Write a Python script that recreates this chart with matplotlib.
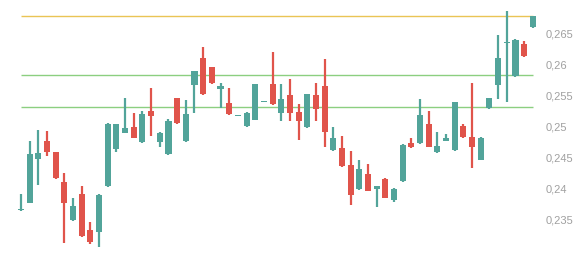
import matplotlib.pyplot as plt

# OHLC values
opens = [0.2366, 0.2378, 0.2448, 0.2477, 0.2459, 0.2411, 0.2350, 0.2392, 0.2334, 0.2331,
         0.2405, 0.2465, 0.2491, 0.2500, 0.2476, 0.2526, 0.2476, 0.2456, 0.2546, 0.2477,
         0.2567, 0.2611, 0.2596, 0.2562, 0.2539, 0.2517, 0.2502, 0.2511, 0.2540, 0.2570,
         0.2523, 0.2552, 0.2524, 0.2500, 0.2552, 0.2566, 0.2463, 0.2466, 0.2439, 0.2400,
         0.2425, 0.2400, 0.2416, 0.2382, 0.2413, 0.2474, 0.2474, 0.2505, 0.2459, 0.2478,
         0.2463, 0.2502, 0.2484, 0.2447, 0.2530, 0.2568, 0.2635, 0.2582, 0.2634, 0.2661]
highs = [0.2392, 0.2477, 0.2495, 0.2494, 0.2460, 0.2426, 0.2385, 0.2405, 0.2347, 0.2392,
         0.2506, 0.2505, 0.2547, 0.2522, 0.2526, 0.2563, 0.2492, 0.2513, 0.2547, 0.2544,
         0.2591, 0.2629, 0.2597, 0.2571, 0.2563, 0.2520, 0.2524, 0.2570, 0.2542, 0.2621,
         0.2569, 0.2577, 0.2537, 0.2554, 0.2571, 0.2610, 0.2500, 0.2486, 0.2461, 0.2447,
         0.2440, 0.2405, 0.2417, 0.2401, 0.2472, 0.2482, 0.2545, 0.2526, 0.2492, 0.2488,
         0.2541, 0.2505, 0.2571, 0.2484, 0.2547, 0.2648, 0.2687, 0.2642, 0.2639, 0.2679]
lows = [0.2365, 0.2377, 0.2406, 0.2454, 0.2416, 0.2313, 0.2349, 0.2323, 0.2312, 0.2307,
        0.2404, 0.2459, 0.2490, 0.2482, 0.2475, 0.2486, 0.2467, 0.2455, 0.2505, 0.2476,
        0.2523, 0.2552, 0.2569, 0.2530, 0.2520, 0.2517, 0.2500, 0.2511, 0.2540, 0.2536,
        0.2509, 0.2509, 0.2479, 0.2499, 0.2509, 0.2467, 0.2462, 0.2436, 0.2375, 0.2399,
        0.2396, 0.2371, 0.2385, 0.2379, 0.2412, 0.2466, 0.2473, 0.2467, 0.2458, 0.2477,
        0.2462, 0.2483, 0.2434, 0.2446, 0.2529, 0.2545, 0.2541, 0.2581, 0.2613, 0.2660]
closes = [0.2368, 0.2456, 0.2458, 0.2460, 0.2417, 0.2377, 0.2373, 0.2324, 0.2315, 0.2390,
          0.2505, 0.2505, 0.2498, 0.2483, 0.2521, 0.2517, 0.2491, 0.2510, 0.2506, 0.2521,
          0.2590, 0.2553, 0.2571, 0.2566, 0.2521, 0.2519, 0.2523, 0.2570, 0.2541, 0.2537,
          0.2545, 0.2522, 0.2509, 0.2553, 0.2529, 0.2492, 0.2483, 0.2437, 0.2391, 0.2432,
          0.2397, 0.2405, 0.2386, 0.2400, 0.2471, 0.2467, 0.2519, 0.2468, 0.2470, 0.2482,
          0.2540, 0.2484, 0.2468, 0.2483, 0.2546, 0.2612, 0.2637, 0.2641, 0.2615, 0.2679]

# horizontal levels
level_top = 0.2679
level_mid = 0.2584
level_low = 0.2532

yticks = [0.235, 0.24, 0.245, 0.25, 0.255, 0.26, 0.265]
ytick_labels = ['0,235', '0,24', '0,245', '0,25', '0,255', '0,26', '0,265']

up_color = '#52a49a'
down_color = '#e0544b'

fig = plt.figure(figsize=(5.84, 2.58), dpi=100)
ax = fig.add_axes([0, 0, 1, 1])

n = len(opens)
x = list(range(n))
colors = [up_color if c >= o else down_color for o, c in zip(opens, closes)]
bottoms = [min(o, c) for o, c in zip(opens, closes)]
heights = [max(abs(c - o), 0.00022) for o, c in zip(opens, closes)]

# level lines sit behind the candles
ax.hlines([level_top], 0, n - 1, colors='#eac455', linewidth=1.0, zorder=1)
ax.hlines([level_mid, level_low], 0, n - 1, colors='#8ccf80', linewidth=1.0, zorder=1)

ax.vlines(x, lows, highs, colors=colors, linewidth=1.6, zorder=2)
ax.bar(x, heights, bottom=bottoms, width=0.7, color=colors, zorder=2, linewidth=0)

for v, lab in zip(yticks, ytick_labels):
    ax.text(n + 0.45, v, lab, ha='left', va='center', fontsize=8,
            family='Liberation Sans', color='#a0a0a0')

ax.set_xlim(-2.42, 64.9)
ax.set_ylim(0.228871, 0.270484)
ax.axis('off')

fig.savefig('out.png', dpi=100)
